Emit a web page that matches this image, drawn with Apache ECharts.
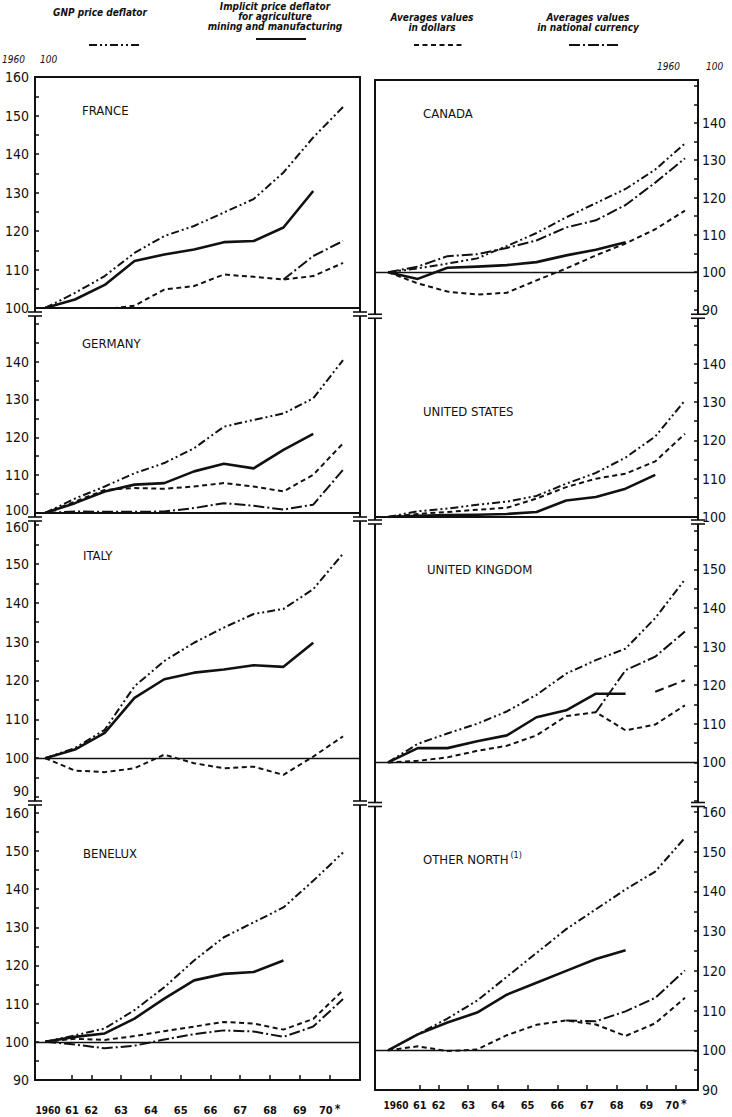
<!DOCTYPE html>
<html><head><meta charset="utf-8">
<script src="https://cdn.jsdelivr.net/npm/echarts@6/dist/echarts.min.js"></script>
<style>html,body{margin:0;padding:0;background:#fff}#c{width:732px;height:1117px}</style>
</head><body><div id="c"></div>
<script>
// ---------- DATA ----------
const years = [1960, 1961, 1962, 1963, 1964, 1965, 1966, 1967, 1968, 1969, 1970];
const xTickLabels = ['1960', '61', '62', '63', '64', '65', '66', '67', '68', '69', '70*'];
const seriesNames = [
  'GNP price deflator',
  'Implicit price deflator for agriculture mining and manufacturing',
  'Averages values in dollars',
  'Averages values in national currency'
];

const franceGnp      = [100, 103.9, 108.3, 114.3, 118.7, 121.3, 124.8, 128.3, 135.2, 144.3, 152.2];
const franceImplicit = [100, 102.2, 106.0, 112.2, 113.9, 115.2, 117.1, 117.4, 120.9, 130.4, null];
const franceDollars  = [100, 98.9, 99.7, 100.6, 104.8, 105.7, 108.7, 108.1, 107.4, 108.3, 111.7];
const franceNational = [null, null, null, null, null, null, null, null, 107.4, 113.5, 117.4];

const canadaGnp      = [100, 101.0, 102.3, 103.7, 107.0, 110.5, 114.7, 118.5, 122.3, 127.5, 134.5];
const canadaImplicit = [100, 98.2, 101.2, 101.5, 101.9, 102.7, 104.5, 106.0, 108.0, null, null];
const canadaDollars  = [100, 97.0, 94.8, 94.0, 94.5, 97.8, 101.0, 104.5, 107.7, 111.5, 116.5];
const canadaNational = [100, 101.5, 104.3, 104.8, 106.5, 108.5, 112.0, 113.9, 118.0, 124.0, 130.5];

const germanyGnp      = [100, 103.8, 107.0, 110.5, 113.2, 117.1, 122.8, 124.6, 126.3, 130.3, 140.4];
const germanyImplicit = [100, 102.6, 105.7, 107.5, 107.9, 111.0, 113.0, 111.8, 116.7, 120.9, null];
const germanyDollars  = [100, 103.0, 106.1, 106.6, 106.4, 107.0, 107.9, 107.0, 105.7, 110.1, 118.4];
const germanyNational = [100, 100.4, 100.3, 100.3, 100.4, 101.3, 102.6, 101.9, 100.9, 102.2, 111.4];

const usGnp      = [100, 101.5, 102.2, 103.2, 104.0, 105.5, 108.7, 111.5, 115.5, 121.0, 130.4];
const usImplicit = [100, 100.3, 100.5, 100.6, 100.8, 101.3, 104.3, 105.2, 107.4, 111.0, null];
const usDollars  = [100, 100.8, 101.3, 101.9, 102.4, 104.8, 107.8, 110.0, 111.3, 114.5, 121.7];
const usNational = [];

const italyGnp      = [100, 102.6, 107.3, 118.5, 125.0, 129.7, 133.6, 137.1, 138.4, 143.5, 152.6];
const italyImplicit = [100, 102.2, 106.5, 115.5, 120.3, 122.0, 122.8, 123.9, 123.5, 129.7, null];
const italyDollars  = [100, 96.8, 96.4, 97.4, 100.9, 98.7, 97.4, 97.8, 95.7, 100.4, 105.6];
const italyNational = [];

const ukGnp      = [100, 104.8, 107.5, 110.0, 113.2, 117.5, 123.0, 126.5, 129.5, 137.4, 147.4];
const ukImplicit = [100, 103.7, 103.7, 105.5, 107.0, 111.7, 113.5, 117.8, 117.8, null, null];
const ukDollars  = [100, 100.4, 101.3, 103.0, 104.3, 107.0, 112.0, 113.0, 108.3, 109.8, 114.8];
const ukNational = [null, null, null, null, null, null, null, 113.0, 123.9, 127.4, 133.9];
const ukEstimate = [null, null, null, null, null, null, null, null, null, 118.3, 121.3];

const beneluxGnp      = [100, 101.7, 103.5, 108.3, 114.3, 121.3, 127.4, 131.3, 135.2, 142.2, 149.6];
const beneluxImplicit = [100, 101.3, 102.2, 106.1, 111.3, 116.1, 117.8, 118.3, 121.3, null, null];
const beneluxDollars  = [100, 100.8, 100.5, 101.5, 102.8, 104.0, 105.2, 104.8, 103.2, 106.0, 113.5];
const beneluxNational = [100, 99.3, 98.3, 99.0, 100.6, 102.0, 103.0, 102.7, 101.3, 104.0, 111.2];

const northGnp      = [100, 104.0, 108.0, 112.5, 118.5, 124.5, 130.5, 135.5, 140.5, 145.0, 153.5];
const northImplicit = [100, 104.0, 107.0, 109.5, 114.0, 117.0, 120.0, 123.0, 125.2, null, null];
const northDollars  = [100, 101.0, 99.8, 100.2, 103.8, 106.4, 107.5, 106.5, 103.6, 106.8, 113.2];
const northNational = [null, null, null, null, null, null, 107.5, 107.3, 109.8, 113.2, 120.1];

// ---------- LAYOUT ----------
const FONT = "'DejaVu Sans Condensed','Liberation Sans Narrow','DejaVu Sans',sans-serif";
const INK = '#111';
const COLS = {
  L: {left: 35, width: 325, xMin: 1959.66, xMax: 1970.57},
  R: {left: 375, width: 323, xMin: 1959.56, xMax: 1970.44}
};
const panels = [
  {title: 'FRANCE', col: 'L', top: 77, bottom: 308, yMin: 100, yMax: 160, lab: [100, 160], topLine: true, bottomLine: true, base: false, tx: 82, ty: 110,
   s: [franceGnp, franceImplicit, franceDollars, franceNational]},
  {title: 'CANADA', col: 'R', top: 80, bottom: 309.5, yMin: 90, yMax: 151.5, lab: [90, 140], topLine: true, bottomLine: false, base: true, tx: 423, ty: 113,
   s: [canadaGnp, canadaImplicit, canadaDollars, canadaNational]},
  {title: 'GERMANY', col: 'L', top: 320, bottom: 513, yMin: 100, yMax: 151, lab: [100, 140], topLine: false, bottomLine: true, base: false, tx: 82, ty: 343, raiseMin: 3,
   s: [germanyGnp, germanyImplicit, germanyDollars, germanyNational]},
  {title: 'UNITED STATES', col: 'R', top: 323, bottom: 517, yMin: 100, yMax: 150.6, lab: [100, 140], topLine: false, bottomLine: true, base: false, tx: 423, ty: 411,
   s: [usGnp, usImplicit, usDollars, usNational]},
  {title: 'ITALY', col: 'L', top: 525, bottom: 797, yMin: 90, yMax: 160, lab: [90, 160], topLine: false, bottomLine: false, base: true, tx: 83, ty: 555, raiseMin: 6, lowerMax: 2,
   s: [italyGnp, italyImplicit, italyDollars, italyNational]},
  {title: 'UNITED KINGDOM', col: 'R', top: 527, bottom: 801, yMin: 90, yMax: 161, lab: [100, 150], topLine: false, bottomLine: false, base: true, tx: 427, ty: 569,
   s: [ukGnp, ukImplicit, ukDollars, ukNational], extra: ukEstimate},
  {title: 'BENELUX', col: 'L', top: 809, bottom: 1083, yMin: 90, yMax: 161, lab: [90, 160], topLine: false, bottomLine: true, base: true, tx: 83, ty: 853,
   xl: {margin: 23, shift: 0.45, first: 0.1, second: 0.9},
   s: [beneluxGnp, beneluxImplicit, beneluxDollars, beneluxNational]},
  {title: 'OTHER NORTH', sup: '(1)', col: 'R', top: 808, bottom: 1090, yMin: 90, yMax: 161, lab: [90, 160], topLine: false, bottomLine: true, base: true, tx: 423, ty: 859,
   xl: {margin: 8, shift: 0.3, first: 0.27, second: 1.07},
   s: [northGnp, northImplicit, northDollars, northNational]}
];

const styles = [
  {width: 2, type: [8, 3, 2, 3, 2, 3]},
  {width: 2.6, type: 'solid'},
  {width: 2, type: [5, 3.5]},
  {width: 2, type: [11, 3, 2, 3]}
];

function range(a, b, step) { const r = []; for (let v = a; v <= b + 1e-9; v += step) r.push(v); return r; }

const grids = [], xAxes = [], yAxes = [], series = [];
panels.forEach((p, i) => {
  const c = COLS[p.col];
  grids.push({left: c.left, top: p.top, width: c.width, height: p.bottom - p.top, containLabel: false});
  const axLine = (show) => ({show: show, onZero: false, lineStyle: {color: INK, width: 2}});
  let xAx;
  if (p.xl) {
    // label positions sit a little left of each year's point, as printed
    const pos = years.map((y, j) => j === 0 ? y + p.xl.first : (j === 1 ? y - 1 + p.xl.second : y - p.xl.shift));
    xAx = {
      axisTick: {show: true, inside: true, length: 5, lineStyle: {color: INK, width: 1.5}, customValues: pos.slice(1)},
      axisLabel: {
        show: true, customValues: pos, margin: p.xl.margin, hideOverlap: false, showMinLabel: true, showMaxLabel: true,
        fontFamily: FONT, fontSize: 11, fontWeight: 'bold', color: INK, lineHeight: 14,
        formatter: (v) => {
          let k = 0, d = 1e9;
          pos.forEach((q, j) => { if (Math.abs(q - v) < d) { d = Math.abs(q - v); k = j; } });
          const t = xTickLabels[k];
          if (k === 0) return '{f|' + t + '}';
          return t.endsWith('*') ? '{n|' + t.slice(0, -1) + '}{s|*}' : t;
        },
        rich: {
          n: {fontSize: 11, fontWeight: 'bold', fontFamily: FONT, color: INK, lineHeight: 14},
          s: {fontSize: 12, fontWeight: 'bold', fontFamily: FONT, color: INK, lineHeight: 14, verticalAlign: 'top', padding: [0, 0, 0, 2]},
          f: {fontSize: 10, fontWeight: 'bold', fontFamily: FONT, color: INK, lineHeight: 14}
        }
      }
    };
  } else {
    xAx = {axisTick: {show: false}, axisLabel: {show: false}};
  }
  xAxes.push(Object.assign({
    type: 'value', gridIndex: i, min: c.xMin, max: c.xMax, position: 'bottom',
    axisLine: axLine(p.bottomLine), splitLine: {show: false}
  }, xAx));
  xAxes.push({
    type: 'value', gridIndex: i, min: c.xMin, max: c.xMax, position: 'top',
    axisLine: axLine(p.topLine), axisTick: {show: false}, axisLabel: {show: false}, splitLine: {show: false}
  });
  const ticks = range(Math.ceil(p.yMin / 5) * 5, Math.floor(p.yMax / 5) * 5, 5);
  const labs = range(p.lab[0], p.lab[1], 10);
  ['left', 'right'].forEach((pos) => {
    const main = (pos === 'left') === (p.col === 'L');
    yAxes.push({
      type: 'value', gridIndex: i, min: p.yMin, max: p.yMax, position: pos,
      axisLine: axLine(true), splitLine: {show: false},
      axisTick: main ? {show: true, inside: true, length: 4, lineStyle: {color: INK, width: 1.5}, customValues: ticks} : {show: false},
      axisLabel: main ? {show: true, customValues: labs, margin: pos === 'left' ? 6 : 4, hideOverlap: false,
        fontFamily: FONT, fontSize: 14, color: INK,
        formatter: (v) => {
          if (v === labs[0] && p.raiseMin) return '{lo|' + v + '}';
          if (v === labs[labs.length - 1] && p.lowerMax) return '{hi|' + v + '}';
          return String(v);
        },
        rich: {
          lo: {fontFamily: FONT, fontSize: 14, color: INK, padding: [0, 0, 2 * (p.raiseMin || 0), 0]},
          hi: {fontFamily: FONT, fontSize: 14, color: INK, padding: [2 * (p.lowerMax || 0), 0, 0, 0]}
        }} : {show: false}
    });
  });
  p.s.forEach((arr, k) => {
    if (!arr.length) return;
    const ser = {
      type: 'line', name: seriesNames[k], xAxisIndex: 2 * i, yAxisIndex: 2 * i,
      data: years.map((y, j) => [y, arr[j] == null ? null : arr[j]]),
      symbol: 'none', connectNulls: false, smooth: false, animation: false,
      lineStyle: Object.assign({color: INK, cap: 'butt', join: 'round'}, styles[k]),
      itemStyle: {color: INK}, z: 3
    };
    if (k === 0 && p.base) {
      ser.markLine = {silent: true, symbol: 'none', animation: false, label: {show: false},
        lineStyle: {color: INK, type: 'solid', width: 1.3}, data: [{yAxis: 100}]};
    }
    series.push(ser);
  });
  if (p.extra) {
    series.push({
      type: 'line', name: 'UK estimate', xAxisIndex: 2 * i, yAxisIndex: 2 * i,
      data: years.map((y, j) => [y, p.extra[j]]), symbol: 'none', animation: false,
      lineStyle: {color: INK, width: 2, type: [9, 5]}, z: 3
    });
  }
});

// ---------- DECORATION (texts, axis breaks) ----------
const graphics = [];
function txt(x, y, text, o) {
  graphics.push({type: 'text', x: x, y: y, silent: true,
    style: Object.assign({text: text, fill: INK, font: '12px ' + FONT, textAlign: 'left', textVerticalAlign: 'middle'}, o || {})});
}
function seg(x1, y1, x2, y2, w) {
  graphics.push({type: 'line', silent: true, shape: {x1: x1, y1: y1, x2: x2, y2: y2}, style: {stroke: INK, lineWidth: w || 2}});
}
panels.forEach((p) => {
  if (p.sup) {
    graphics.push({type: 'text', x: p.tx, y: p.ty, silent: true,
      style: {text: p.title + '{s|' + p.sup + '}', fill: INK, font: '13px ' + FONT, textVerticalAlign: 'middle',
        rich: {s: {fontSize: 9, fontFamily: FONT, fill: INK, padding: [0, 0, 8, 2]}}}});
  } else {
    txt(p.tx, p.ty, p.title, {font: '13px ' + FONT});
  }
});
// axis breaks between stacked panels
['L', 'R'].forEach((col) => {
  const ps = panels.filter(p => p.col === col);
  const c = COLS[col];
  for (let k = 0; k < ps.length - 1; k++) {
    const a = ps[k].bottom, b = ps[k + 1].top, m = (a + b) / 2;
    [c.left, c.left + c.width].forEach((x) => {
      seg(x, a, x, m - 2);
      seg(x, m + 2, x, b);
      seg(x - 7, m - 2, x + 7, m - 2, 1.6);
      seg(x - 7, m + 2, x + 7, m + 2, 1.6);
    });
  }
});
// header / legend texts
const LF = 'italic bold 10px ' + FONT;
txt(100, 12, 'GNP price deflator', {font: LF, textAlign: 'center'});
txt(275, 6, 'Implicit price deflator', {font: LF, textAlign: 'center'});
txt(275, 16, 'for agriculture', {font: LF, textAlign: 'center'});
txt(275, 26, 'mining and manufacturing', {font: LF, textAlign: 'center'});
txt(432, 17, 'Averages values', {font: LF, textAlign: 'center'});
txt(432, 27, 'in dollars', {font: LF, textAlign: 'center'});
txt(588, 17, 'Averages values', {font: LF, textAlign: 'center'});
txt(588, 27, 'in national currency', {font: LF, textAlign: 'center'});
txt(2, 59, '1960', {font: 'italic 10px ' + FONT});
txt(40, 59, '100', {font: 'italic 10px ' + FONT});
txt(657, 66, '1960', {font: 'italic 10px ' + FONT});
txt(706, 66, '100', {font: 'italic 10px ' + FONT});

const legendPos = [[88, 42], [255, 36], [413, 42], [568, 42]];
const legends = seriesNames.map((n, k) => ({
  data: [n], left: legendPos[k][0], top: legendPos[k][1], itemWidth: 50, itemHeight: 6,
  padding: 0, itemGap: 0, selectedMode: false, formatter: () => '',
  itemStyle: {opacity: 0}, textStyle: {fontSize: 1}
}));

const chart = echarts.init(document.getElementById('c'), null, {renderer: 'svg', width: 732, height: 1117});
chart.setOption({
  backgroundColor: '#fff', animation: false,
  grid: grids, xAxis: xAxes, yAxis: yAxes, series: series,
  legend: legends, graphic: graphics
});
</script></body></html>
